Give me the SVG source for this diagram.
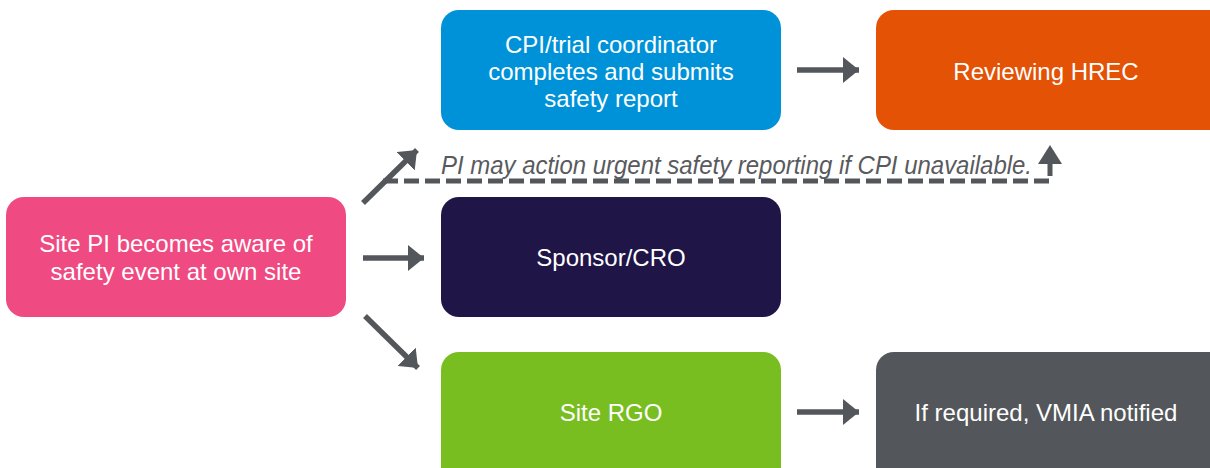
<svg xmlns="http://www.w3.org/2000/svg" width="1210" height="468" viewBox="0 0 1210 468">
<style>
.box text{font-family:"Liberation Sans",Arial,sans-serif;font-size:24px;fill:#ffffff;text-anchor:middle}
.conn{stroke:#53565A;stroke-width:5.5;fill:none}
.dash{stroke:#53565A;stroke-width:5;fill:none;stroke-dasharray:15 6}
.note{font-family:"Liberation Sans",Arial,sans-serif;font-size:25px;font-style:italic;fill:#595A5E}
</style>
<defs>
<marker id="ah" markerUnits="userSpaceOnUse" markerWidth="18" markerHeight="26" refX="16" refY="13" orient="auto">
<path d="M0,0 L16,13 L0,26 Z" fill="#53565A"/>
</marker>
</defs>
<rect width="1210" height="468" fill="#ffffff"/>
<g id="node-site-pi" class="box">
<rect x="6" y="197" width="340" height="120" rx="18" fill="#EF4A81"/>
<text x="176" y="252">Site PI becomes aware of</text>
<text x="176" y="280">safety event at own site</text>
</g>
<g id="node-cpi" class="box">
<rect x="441" y="10" width="340" height="120" rx="18" fill="#0092D8"/>
<text x="611" y="53">CPI/trial coordinator</text>
<text x="611" y="80">completes and submits</text>
<text x="611" y="107">safety report</text>
</g>
<g id="node-hrec" class="box">
<rect x="876" y="10" width="352" height="120" rx="18" fill="#E35205"/>
<text x="1046" y="80">Reviewing HREC</text>
</g>
<g id="node-sponsor" class="box">
<rect x="441" y="197" width="340" height="120" rx="18" fill="#201547"/>
<text x="611" y="266">Sponsor/CRO</text>
</g>
<g id="node-rgo" class="box">
<rect x="441" y="352" width="340" height="136" rx="18" fill="#78BE20"/>
<text x="611" y="421">Site RGO</text>
</g>
<g id="node-vmia" class="box">
<rect x="876" y="352" width="352" height="136" rx="18" fill="#53565A"/>
<text x="1046" y="421">If required, VMIA notified</text>
</g>
<g id="connectors">
<line class="conn" x1="363" y1="203" x2="417" y2="150" marker-end="url(#ah)"/>
<line class="conn" x1="363" y1="258" x2="424" y2="258" marker-end="url(#ah)"/>
<line class="conn" x1="365" y1="316" x2="418" y2="368" marker-end="url(#ah)"/>
<line class="conn" x1="797" y1="70" x2="859" y2="70" marker-end="url(#ah)"/>
<line class="conn" x1="797" y1="412" x2="859" y2="412" marker-end="url(#ah)"/>
<polyline class="dash" points="383,181 1050,181 1050,164"/>
<path d="M1038,164 L1050,145 L1062,164 Z" fill="#53565A"/>
<text class="note" x="441" y="174" textLength="591" lengthAdjust="spacingAndGlyphs">PI may action urgent safety reporting if CPI unavailable.</text>
</g>
</svg>
